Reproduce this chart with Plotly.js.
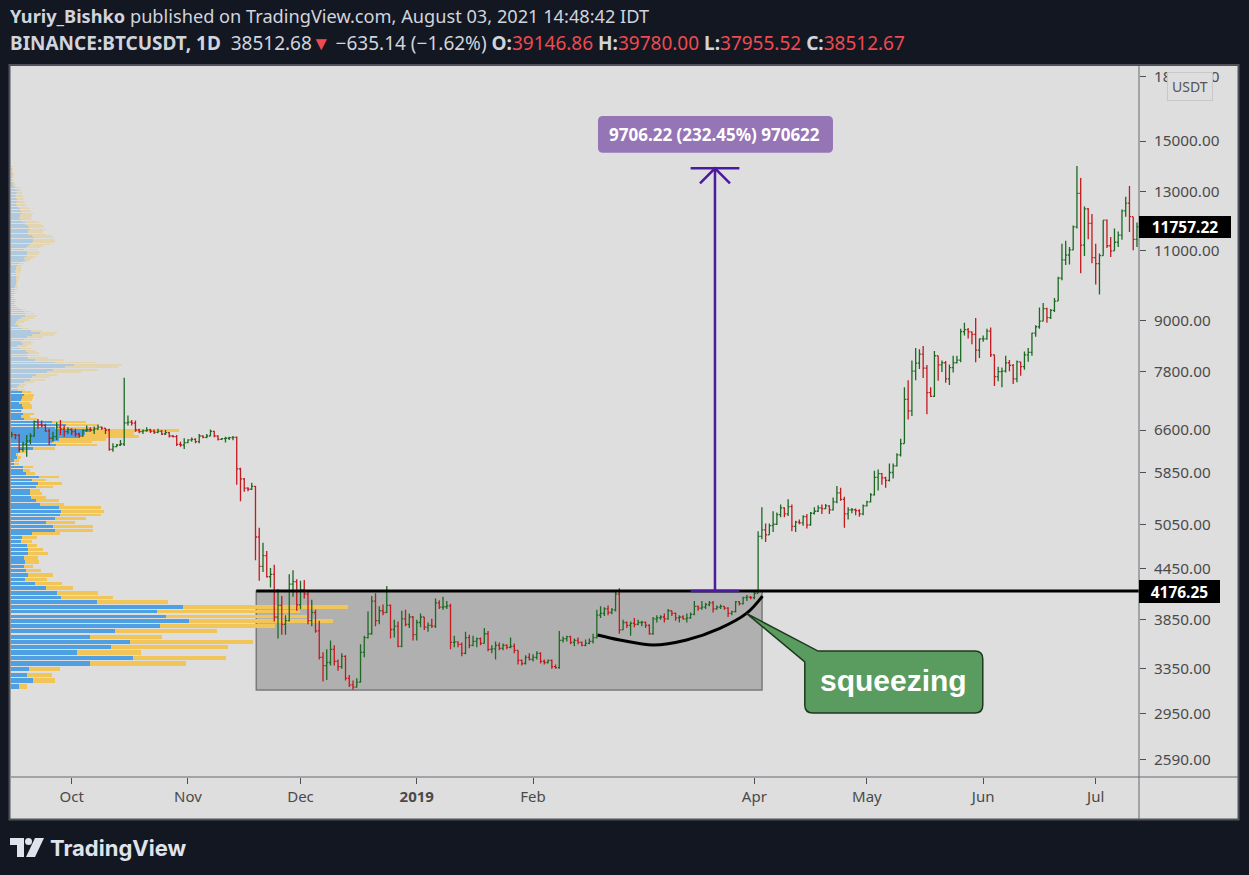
<!DOCTYPE html>
<html><head><meta charset="utf-8">
<script src="https://cdn.plot.ly/plotly-3.0.1.min.js"></script>
<style>html,body{margin:0;padding:0;background:#131722;}#chart{width:1249px;height:875px;}</style>
</head><body><div id="chart"></div>
<script>
// ---------------- DATA (BINANCE:BTCUSDT daily, 2018-09-15 .. 2019-07-12) ----------------
const firstDay = '2018-09-15';
const open = [
6489,6514,6502,6248,6343,6400,6489,6760,6705,6685,6581,6447,6476,6653,6622,6569,
6610,6569,6526,6489,6588,6610,6600,6622,6653,6635,6600,6248,6295,6325,6343,6735,6748,6730,6600,6569,6588,6600,6580,6557,6581,6526,6551,6489,6476,6337,6325,
6368,6416,6428,6385,6489,6464,6489,6575,6489,6428,6441,6447,6459,6465,5909,5745,5596,5578,5625,4870,4480,4620,4350,4380,3880,4010,3800,3840,4260,4290,
4017,4190,4140,3840,3930,3730,3460,3380,3410,3540,3420,3370,3470,3260,3200,3180,3225,3510,3660,3700,4060,3840,3950,3930,4010,3745,3780,3570,3860,3800,3880,
3690,3820,3880,3770,3790,3780,4040,3990,3995,4005,3610,3615,3590,3500,3660,3580,3620,3650,3600,3700,3540,3545,3580,3550,3580,3560,3570,3530,3430,3400,3460,
3440,3460,3500,3420,3410,3430,3370,3360,3630,3650,3670,3610,3630,3610,3580,3600,3620,3660,3900,3920,3970,3930,3960,4140,3740,3820,3790,3810,
3800,3820,3822,3790,3700,3860,3870,3880,3860,3950,3920,3870,3880,3860,3870,3910,4000,3980,3990,4020,4040,3970,3990,4000,3980,3920,3940,4050,4030,4100,4105,
4100,4150,4880,4970,4900,5030,5050,5190,5290,5200,5310,5020,5080,5070,5160,5040,5210,5240,5290,5280,5320,5260,5380,5520,5420,5200,5260,5262,5250,5200,
5320,5380,5490,5770,5830,5760,5720,5850,5960,6150,6350,7200,6970,7800,7980,8190,7870,7340,7260,8150,7940,7990,7630,7880,7990,8050,8730,8780,8720,8660,8280,
8550,8550,8740,8170,7680,7790,7800,7990,7930,7630,8010,7900,8170,8230,8690,8850,8990,9320,9080,9270,9520,10160,10700,10850,11010,11750,12930,11160,12370,11870,
10770,10590,10830,11980,11140,10980,11250,11480,12300,12570,12100,11340];
const high = [
6569,6527,6527,6385,6508,6539,6780,6812,6780,6717,6622,6569,6748,6790,6685,6653,
6635,6622,6550,6610,6685,6653,6665,6705,6665,6640,6622,6356,6343,6416,7655,6877,6790,6780,6622,6610,6653,6622,6610,6622,6600,6600,6562,6508,6508,6385,6447,
6428,6459,6447,6526,6502,6526,6610,6588,6502,6453,6476,6476,6490,6480,5930,5760,5610,5680,5630,5000,4790,4680,4460,4500,4200,4120,3900,4380,4430,4320,
4300,4310,4170,4075,3960,3840,3510,3540,3630,3580,3440,3500,3480,3290,3240,3260,3590,3680,3940,4120,4150,4000,4020,4236,4020,3850,3830,3950,3960,3920,3890,
3850,3920,3880,3820,3860,4090,4070,4110,4060,4030,3680,3620,3610,3720,3690,3680,3660,3660,3760,3730,3580,3620,3610,3600,3590,3660,3600,3530,3440,3480,3500,
3490,3520,3510,3440,3440,3440,3390,3730,3670,3680,3680,3650,3660,3620,3640,3650,3700,3960,4000,3990,4010,3980,4180,4210,3850,3830,3830,3870,
3850,3840,3830,3800,3880,3900,3900,3920,3970,3950,3930,3900,3900,3920,3930,4060,4010,4060,4040,4060,4060,4010,4020,4000,3990,3950,4060,4060,4110,4130,4120,
4170,4950,5300,5060,5060,5240,5220,5340,5300,5420,5340,5100,5120,5180,5200,5230,5300,5330,5340,5350,5330,5450,5630,5600,5460,5300,5290,5280,5270,5340,
5400,5520,5880,5900,5840,5780,6000,6000,6180,6440,7450,7600,8040,8330,8300,8380,7940,7450,8260,8150,8040,8030,7950,8150,8150,8800,8950,8820,8730,9070,8560,
8630,8800,8830,8180,7900,7880,8150,8050,7960,8040,8010,8250,8330,8700,8890,9350,9470,9340,9310,9600,10200,11200,11300,11100,11800,13970,13500,12450,12400,12190,
11200,10900,11980,12000,11420,11700,11600,12350,12800,13200,12100,11900];
const low = [
6460,6428,6206,6206,6118,6340,6476,6622,6653,6569,6325,6385,6416,6508,6476,6526,
6508,6476,6460,6475,6569,6569,6526,6600,6600,6526,6224,6206,6283,6307,6307,6685,6685,6569,6539,6526,6569,6545,6526,6539,6508,6508,6463,6463,6307,6295,6254,
6356,6385,6356,6356,6447,6447,6489,6464,6404,6416,6368,6416,6410,5650,5390,5540,5545,5565,4560,4300,4410,4340,4220,3830,3650,3690,3690,3830,4110,3950,
3970,4090,3800,3780,3710,3440,3230,3245,3380,3380,3330,3350,3240,3180,3156.26,3175,3220,3460,3650,3690,3780,3800,3900,3925,3650,3660,3560,3560,3780,3760,3630,
3630,3770,3740,3720,3760,3760,3970,3960,3970,3540,3560,3560,3470,3490,3550,3570,3560,3580,3600,3520,3500,3440,3530,3530,3540,3550,3500,3390,3380,3390,3430,
3420,3440,3400,3390,3400,3350,3350,3350,3610,3620,3590,3570,3590,3570,3570,3590,3600,3650,3870,3890,3900,3910,3940,3700,3740,3760,3680,3770,
3790,3780,3760,3690,3690,3820,3850,3820,3850,3890,3840,3820,3850,3820,3860,3900,3950,3960,3970,4000,3930,3960,3970,3960,3880,3900,3930,4010,4020,4060,4080,
4080,4150,4840,4800,4900,4940,5040,5150,5150,5170,4950,4940,5050,5030,4990,5030,5190,5230,5200,5270,5200,5250,5360,5400,5000,5120,5210,5180,5160,5180,
5310,5370,5480,5560,5650,5600,5700,5750,5950,6120,6350,6800,6870,7600,7850,7650,6900,7250,7250,7590,7780,7550,7500,7770,7970,8000,8630,8560,8420,8000,8100,
8480,8530,8120,7480,7580,7450,7770,7800,7520,7560,7700,7830,8010,8150,8600,8800,8990,8950,9050,9230,9520,10100,10550,10560,11000,11700,10300,10820,11350,10600,
9980,9700,10830,11070,10790,10980,11100,11330,12100,11580,11000,11100];
const close = [
6514,6502,6248,6343,6400,6489,6760,6705,6685,6581,6447,6476,6653,6622,6569,6610,
6569,6526,6489,6588,6610,6600,6622,6653,6635,6600,6248,6295,6325,6343,6735,6748,6730,6600,6569,6588,6600,6580,6557,6581,6526,6551,6489,6476,6337,6325,6368,
6416,6428,6385,6489,6464,6489,6575,6489,6428,6441,6447,6459,6465,5909,5745,5596,5578,5625,4870,4480,4620,4350,4380,3880,4010,3800,3840,4260,4290,4017,
4190,4140,3840,3930,3730,3460,3380,3410,3540,3420,3370,3470,3260,3200,3180,3225,3510,3660,3700,4060,3840,3950,3930,4010,3745,3780,3570,3860,3800,3880,3690,
3820,3880,3770,3790,3780,4040,3990,3995,4005,3610,3615,3590,3500,3660,3580,3620,3650,3600,3700,3540,3545,3580,3550,3580,3560,3570,3530,3430,3400,3460,3440,
3460,3500,3420,3410,3430,3370,3360,3630,3650,3670,3610,3630,3610,3580,3600,3620,3660,3900,3920,3970,3930,3960,4140,3740,3820,3790,3810,3800,
3820,3822,3790,3700,3860,3870,3880,3860,3950,3920,3870,3880,3860,3870,3910,4000,3980,3990,4020,4040,3970,3990,4000,3980,3920,3940,4050,4030,4100,4105,4100,
4150,4880,4970,4900,5030,5050,5190,5290,5200,5310,5020,5080,5070,5160,5040,5210,5240,5290,5280,5320,5260,5380,5520,5420,5200,5260,5262,5250,5200,5320,
5380,5490,5770,5830,5760,5720,5850,5960,6150,6350,7200,6970,7800,7980,8190,7870,7340,7260,8150,7940,7990,7630,7880,7990,8050,8730,8780,8720,8660,8280,8550,
8550,8740,8170,7680,7790,7800,7990,7930,7630,8010,7900,8170,8230,8690,8850,8990,9320,9080,9270,9520,10160,10700,10850,11010,11750,12930,11160,12370,11870,10770,
10590,10830,11980,11140,10980,11250,11480,12300,12570,12100,11340,11757.22];

// Visible-range volume profile: 200 price rows from the range low to the range high (bottom row first)
const vpUp = [
8,22,16,18,79,122,66,100,119,79,104,149,178,155,146,172,86,50,46,35,
24,14,17,15,13,14,13,17,17,16,10,11,21,44,42,35,44,49,50,48,
29,25,20,19,19,25,27,21,28,15,12,12,3,3,6,5,9,22,45,41,
48,69,74,79,44,55,41,13,10,12,10,12,11,8,10,11,13,11,7,6,
8,13,19,21,25,36,42,54,63,44,24,17,16,17,15,9,6,12,10,13,
16,21,29,20,11,7,4,5,7,10,14,14,13,10,6,4,3,4,4,2,
2,3,3,4,4,4,5,5,5,5,5,5,5,4,5,5,7,8,12,14,
13,15,16,16,16,13,15,17,19,21,22,22,23,21,17,17,17,19,18,17,
14,14,11,10,8,9,9,11,10,9,9,7,6,5,5,7,6,5,5,4,
5,6,6,4,4,2,2,2,2,1,1,1,1,1,1,1,1,1,1,1];
const vpDown = [
8,22,25,31,96,93,64,117,123,72,102,115,144,141,143,165,71,52,41,27,
27,22,25,15,9,14,14,20,15,10,11,15,28,38,40,29,31,41,43,42,
24,23,15,12,10,17,24,14,20,9,7,10,5,5,4,2,6,22,41,40,
47,59,49,89,42,31,34,13,9,11,1,9,10,11,11,11,10,9,7,7,
7,10,15,17,21,34,45,53,48,40,28,20,12,11,10,11,10,8,12,17,
16,22,17,11,7,4,4,8,11,13,12,10,7,5,2,1,1,1,1,1,
2,2,4,3,3,2,1,2,2,3,4,4,4,6,5,5,5,5,5,5,
9,10,12,12,13,14,14,15,20,21,22,22,20,20,18,15,15,16,14,16,
16,16,15,11,12,12,12,12,10,10,10,10,9,9,9,6,7,7,7,7,
6,5,5,5,5,3,3,2,2,2,2,2,1,2,2,1,1,1,1,1];
const valueAreaRows = [0, 77];          // rows inside the 70% value area (opaque)

// Drawings (time / price anchored)
const rayLevel = 4176.25;
const rangeMove = 9706.22;
const rangeLabel = '9706.22 (232.45%) 970622';
const boxStart = '2018-11-19 05:00', boxEnd = '2019-04-03 01:00', boxLow = 3153;
const rangeStart = '2019-03-15', rangeEnd = '2019-03-28', rangeMid = '2019-03-21 12:00';
const arcTimes  = ['2019-02-18 04:30','2019-02-24 03:00','2019-03-05 00:15','2019-03-13 22:00','2019-03-22 19:00','2019-03-29 21:30','2019-04-03 04:00'];
const arcPrices = [3687, 3635, 3584, 3635, 3757, 3920, 4118];
const calloutTime = '2019-03-29 21:36', calloutPrice = 3920, calloutText = 'squeezing';
const yTicks = [2590, 2950, 3350, 3850, 4450, 5050, 5850, 6600, 7800, 9000, 11000, 13000, 15000, 18000];
const xTicks = ['2018-10-01','2018-11-01','2018-12-01','2019-01-01','2019-02-01','2019-04-01','2019-05-01','2019-06-01','2019-07-01'];
const xTickText = ['Oct','Nov','Dec','<b>2019</b>','Feb','Apr','May','Jun','Jul'];

// ---------------- derived ----------------
const dates = close.map((_, i) => {
  const d = new Date(firstDay + 'T00:00:00Z'); d.setUTCDate(d.getUTCDate() + i);
  return d.toISOString().slice(0, 10);
});
const rangeLow = Math.min(...low), rangeHigh = Math.max(...high);
const rowSize = (rangeHigh - rangeLow) / vpUp.length;
const rowMid = vpUp.map((_, i) => rangeLow + (i + 0.5) * rowSize);
const inVA = i => i >= valueAreaRows[0] && i <= valueAreaRows[1];
const upCol = vpUp.map((_, i) => inVA(i) ? 'rgba(78,160,226,1)' : 'rgba(78,160,226,0.32)');
const dnCol = vpUp.map((_, i) => inVA(i) ? 'rgba(242,197,88,1)' : 'rgba(242,197,88,0.32)');
const lastClose = close[close.length - 1];

// ---------------- layout helpers ----------------
const W = 1249, H = 875, M = {l: 11, r: 110, t: 66, b: 98};
const PW = W - M.l - M.r, PH = H - M.t - M.b;
const px = x => (x - M.l) / PW;
const py = y => (H - M.b - y) / PH;
const FONT = 'Noto Sans, Open Sans, sans-serif';
const TXT = '#d1d4dc', RED = '#ef4a4f', PURPLE = '#4b1a9e', AX = '#4d4f56';

const traces = [
  {type: 'bar', orientation: 'h', x: vpUp, y: rowMid, width: rowSize * 0.78,
   marker: {color: upCol, line: {width: 0}}, xaxis: 'x', yaxis: 'y', hoverinfo: 'skip'},
  {type: 'bar', orientation: 'h', x: vpDown, y: rowMid, width: rowSize * 0.78,
   marker: {color: dnCol, line: {width: 0}}, xaxis: 'x', yaxis: 'y', hoverinfo: 'skip'},
  {type: 'ohlc', x: dates, open: open, high: high, low: low, close: close,
   xaxis: 'x2', yaxis: 'y', tickwidth: 0.4, hoverinfo: 'skip',
   increasing: {line: {color: '#1c6a22', width: 1.3}},
   decreasing: {line: {color: '#c4191d', width: 1.3}}},
  {type: 'scatter', mode: 'lines', x: arcTimes, y: arcPrices, xaxis: 'x2', yaxis: 'y',
   line: {color: '#000', width: 3, shape: 'spline', smoothing: 1}, hoverinfo: 'skip'}
];

const shapes = [
  {type: 'rect', xref: 'paper', yref: 'paper', x0: px(9.5), x1: px(1238.5), y0: py(819.5), y1: py(65),
   fillcolor: '#dedede', line: {color: '#4f525b', width: 2}, layer: 'below'},
  {type: 'rect', xref: 'x2', yref: 'y', x0: boxStart, x1: boxEnd, y0: boxLow, y1: rayLevel,
   fillcolor: '#b0b0b0', line: {color: '#7a7a7a', width: 1.5}, layer: 'below'},
  {type: 'line', xref: 'x2', yref: 'y', x0: boxStart, x1: '2019-09-01', y0: rayLevel, y1: rayLevel,
   line: {color: '#000', width: 3}},
  {type: 'line', xref: 'x2', yref: 'y', x0: rangeStart, x1: rangeEnd, y0: rayLevel, y1: rayLevel,
   line: {color: PURPLE, width: 2.5}},
  {type: 'line', xref: 'x2', yref: 'y', x0: rangeStart, x1: rangeEnd, y0: rayLevel + rangeMove, y1: rayLevel + rangeMove,
   line: {color: PURPLE, width: 2.5}},
  {type: 'line', xref: 'x2', yref: 'y', x0: rangeMid, x1: rangeMid, y0: rayLevel, y1: rayLevel + rangeMove,
   line: {color: PURPLE, width: 2.5}},
  {type: 'path', xref: 'x2', yref: 'y', xsizemode: 'pixel', ysizemode: 'pixel',
   xanchor: rangeMid, yanchor: rayLevel + rangeMove, path: 'M -15,-15 L 0,0 L 15,-15',
   line: {color: PURPLE, width: 2.5}},
  {type: 'path', xref: 'x2', yref: 'y', xsizemode: 'pixel', ysizemode: 'pixel',
   xanchor: rangeMid, yanchor: rayLevel + rangeMove,
   path: 'M -112,15.6 L 113,15.6 Q 118,15.6 118,20.6 L 118,47.3 Q 118,52.3 113,52.3 L -112,52.3 Q -117,52.3 -117,47.3 L -117,20.6 Q -117,15.6 -112,15.6 Z',
   fillcolor: '#9575b5', line: {width: 0}},
  {type: 'path', xref: 'x2', yref: 'y', xsizemode: 'pixel', ysizemode: 'pixel',
   xanchor: calloutTime, yanchor: calloutPrice,
   path: 'M 0,0 L 71.6,-37.7 L 228.3,-37.7 Q 236.3,-37.7 236.3,-45.7 L 236.3,-91.7 Q 236.3,-99.7 228.3,-99.7 L 66.3,-99.7 Q 58.3,-99.7 58.3,-91.7 L 58.3,-48.4 Z',
   fillcolor: '#5a9b60', line: {color: '#1d3a1f', width: 1.5}},
  {type: 'line', xref: 'paper', yref: 'paper', x0: 1, x1: 1, y0: py(819), y1: 1, line: {color: '#65686f', width: 1}},
  {type: 'line', xref: 'paper', yref: 'paper', x0: 0, x1: px(1238), y0: 0, y1: 0, line: {color: '#65686f', width: 1}},
  {type: 'path', xref: 'paper', yref: 'paper', xsizemode: 'pixel', ysizemode: 'pixel', xanchor: 0, yanchor: 0,
   path: 'M -1,-61 L 13,-61 L 13,-80 L 6,-80 L 6,-68 L -1,-68 Z', fillcolor: '#e0e3eb', line: {width: 0}},
  {type: 'circle', xref: 'paper', yref: 'paper', xsizemode: 'pixel', ysizemode: 'pixel', xanchor: 0, yanchor: 0,
   x0: 14, x1: 21, y0: -61, y1: -68, fillcolor: '#e0e3eb', line: {width: 0}},
  {type: 'path', xref: 'paper', yref: 'paper', xsizemode: 'pixel', ysizemode: 'pixel', xanchor: 0, yanchor: 0,
   path: 'M 24,-61 L 33,-61 L 24,-80 L 15,-80 Z', fillcolor: '#e0e3eb', line: {width: 0}}
];

const annotations = [
  {xref: 'paper', yref: 'paper', x: px(8), y: py(16), xanchor: 'left', yanchor: 'middle', showarrow: false,
   text: '<b>Yuriy_Bishko</b> published on TradingView.com, August 03, 2021 14:48:42 IDT',
   font: {family: FONT, size: 18.2, color: TXT}},
  {xref: 'paper', yref: 'paper', x: px(8), y: py(43), xanchor: 'left', yanchor: 'middle', showarrow: false,
   text: '<b>BINANCE:BTCUSDT, 1D</b>\u00a0 38512.68<span style="color:' + RED + '">▼</span> \u2212635.14 (\u22121.62%) <b>O:</b><span style="color:' + RED + '">39146.86</span> <b>H:</b><span style="color:' + RED + '">39780.00</span> <b>L:</b><span style="color:' + RED + '">37955.52</span> <b>C:</b><span style="color:' + RED + '">38512.67</span>',
   font: {family: FONT, size: 19, color: TXT}},
  {xref: 'paper', yref: 'paper', x: px(48), y: py(848), xanchor: 'left', yanchor: 'middle', showarrow: false,
   text: '<b>TradingView</b>', font: {family: 'Inter, sans-serif', size: 22, color: '#e0e3eb'}},
  {xref: 'paper', yref: 'paper', x: px(1189.5), y: py(87), xanchor: 'center', yanchor: 'middle', showarrow: false,
   text: 'USDT', bgcolor: '#dedede', bordercolor: '#c8c8cc', borderwidth: 1, borderpad: 4,
   font: {family: FONT, size: 14, color: '#555'}},
  {xref: 'paper', yref: 'y', x: 1, y: Math.log10(lastClose), xanchor: 'left', yanchor: 'middle', showarrow: false,
   text: '<b>' + lastClose.toFixed(2) + '</b>', bgcolor: '#000', bordercolor: '#000', borderwidth: 1, borderpad: 2,
   width: 86, height: 16, font: {family: FONT, size: 15.5, color: '#fff'}},
  {xref: 'paper', yref: 'y', x: 1, y: Math.log10(rayLevel), xanchor: 'left', yanchor: 'middle', showarrow: false,
   text: '<b>' + rayLevel.toFixed(2) + '</b>', bgcolor: '#000', bordercolor: '#000', borderwidth: 1, borderpad: 2,
   width: 75, height: 17, font: {family: FONT, size: 15.5, color: '#fff'}},
  {xref: 'x2', yref: 'y', x: rangeMid, y: Math.log10(rayLevel + rangeMove), yshift: 34, showarrow: false,
   text: '<b>' + rangeLabel + '</b>', font: {family: FONT, size: 17, color: '#fff'}},
  {xref: 'x2', yref: 'y', x: calloutTime, y: Math.log10(calloutPrice), xshift: 147, yshift: -67, showarrow: false,
   text: '<b>' + calloutText + '</b>', font: {family: 'Liberation Sans, Arial, sans-serif', size: 30, color: '#fff'}}
];

const layout = {
  width: W, height: H, margin: M, showlegend: false, barmode: 'stack', bargap: 0,
  paper_bgcolor: '#131722', plot_bgcolor: '#dedede',
  xaxis: {range: [0, PW], visible: false, fixedrange: true},
  xaxis2: {overlaying: 'x', anchor: 'y', side: 'bottom', type: 'date',
    range: ['2018-09-14 19:40', '2019-07-12 13:00'], rangeslider: {visible: false},
    tickvals: xTicks, ticktext: xTickText, ticks: 'outside', ticklen: 6, tickcolor: AX,
    tickfont: {family: FONT, size: 15, color: '#4a4a4a'}, showgrid: false, zeroline: false, showline: false},
  yaxis: {type: 'log', side: 'right', anchor: 'x', range: [3.39147, 4.26862],
    tickvals: yTicks, ticktext: yTicks.map(v => v.toFixed(2)), ticks: 'outside', ticklen: 6, tickcolor: AX,
    ticklabelstandoff: 5,
    tickfont: {family: FONT, size: 15.3, color: '#4a4a4a'}, showgrid: false, zeroline: false, showline: false},
  shapes: shapes, annotations: annotations
};

Plotly.newPlot('chart', traces, layout, {displayModeBar: false, staticPlot: true});
</script>
</body></html>
